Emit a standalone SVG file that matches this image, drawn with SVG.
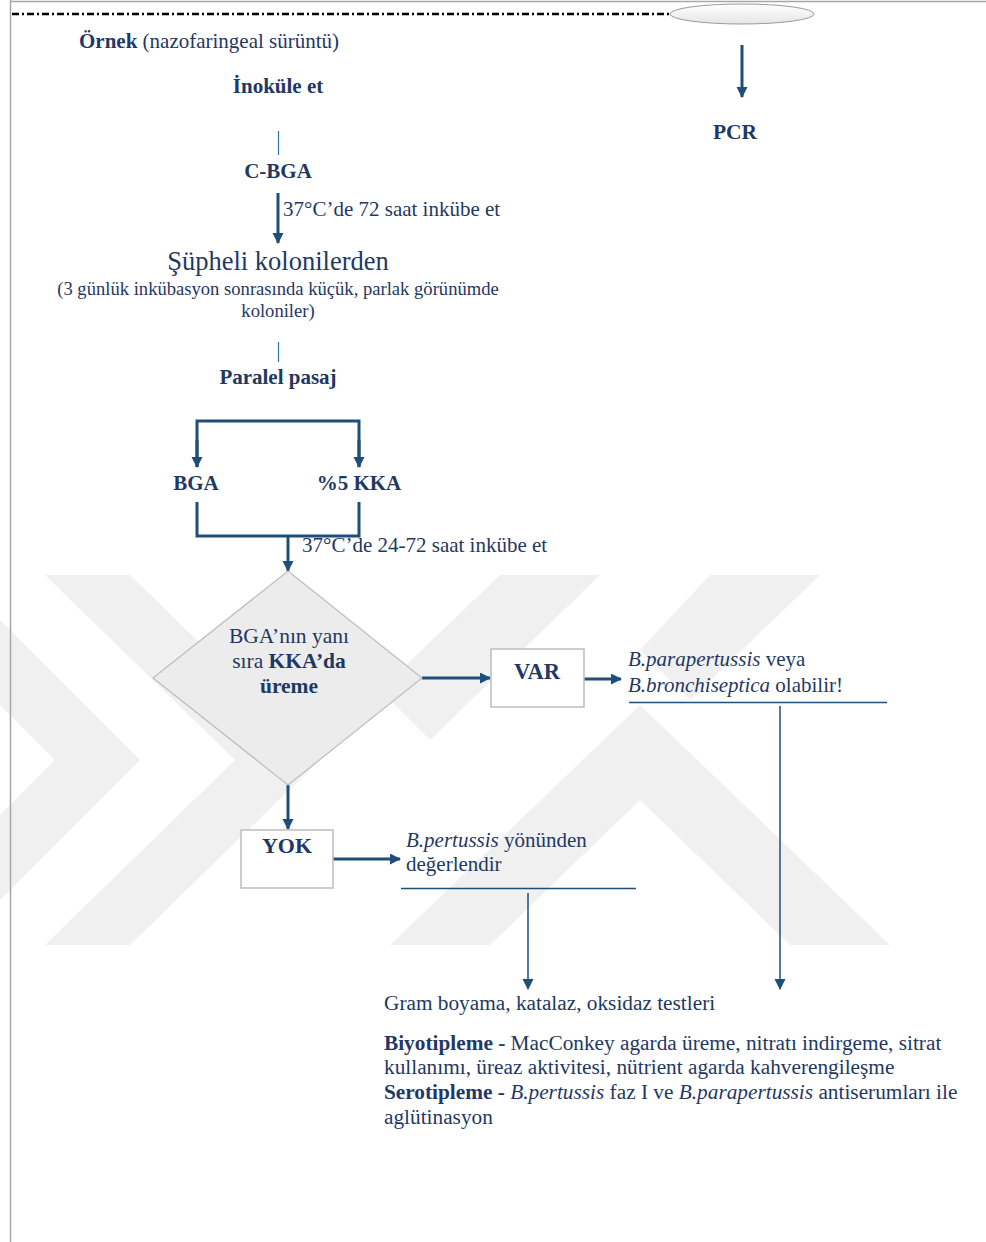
<svg xmlns="http://www.w3.org/2000/svg" width="986" height="1242" viewBox="0 0 986 1242">
<defs>
<style>
.t{font-family:"Liberation Serif","Times New Roman",serif;fill:#1f3864;}
.b{font-weight:bold;}
.i{font-style:italic;}
.c{text-anchor:middle;}
.ln{stroke:#1f4e79;stroke-width:3;fill:none;}
.thin{stroke:#1f4e79;stroke-width:1.5;fill:none;}
.wm{fill:#f0f0f0;}
.box{fill:#ffffff;stroke:#bdbdbd;stroke-width:1.5;}
</style>
<marker id="ah" markerUnits="userSpaceOnUse" markerWidth="12" markerHeight="12" refX="10" refY="5.5" orient="auto">
<path d="M0,0 L11,5.5 L0,11 Z" fill="#1f4e79"/>
</marker>
<linearGradient id="eg" x1="0" y1="0" x2="0" y2="1">
<stop offset="0" stop-color="#ffffff"/>
<stop offset="1" stop-color="#e6e6e6"/>
</linearGradient>
</defs>
<rect width="986" height="1242" fill="#ffffff"/>
<g id="watermark">
<polygon class="wm" points="45,575 130,575 320,760 130,945 45,945 235,760"/>
<polygon class="wm" points="0,620 0,705 55,760 0,815 0,900 140,760"/>
<polygon class="wm" points="640,705 890,945 790,945 640,800 490,945 390,945"/>
<polygon class="wm" points="500,575 600,575 430,740 380,690"/>
<polygon class="wm" points="710,575 820,575 690,700 640,650"/>
</g>
<g id="frame">
<line x1="10" y1="1.5" x2="986" y2="1.5" stroke="#a6a6a6" stroke-width="1.5"/>
<line x1="10.5" y1="0" x2="10.5" y2="1242" stroke="#a6a6a6" stroke-width="1.5"/>
<line x1="12" y1="14" x2="670" y2="14" stroke="#000" stroke-width="2.5" stroke-dasharray="7,3,2,3"/>
<ellipse cx="742" cy="14" rx="72" ry="10" fill="url(#eg)" stroke="#9a9a9a" stroke-width="1"/>
</g>
<g id="connectors">
<line x1="742" y1="45" x2="742" y2="97" class="ln" marker-end="url(#ah)"/>
<line x1="278.5" y1="131" x2="278.5" y2="155" stroke="#2e75b6" stroke-width="1.2"/>
<line x1="278" y1="193" x2="278" y2="243" class="ln" marker-end="url(#ah)"/>
<line x1="278.5" y1="342" x2="278.5" y2="362" stroke="#2e75b6" stroke-width="1.2"/>
<polyline points="197,467 197,421 359,421 359,467" class="ln"/>
<line x1="197" y1="440" x2="197" y2="467" class="ln" marker-end="url(#ah)"/>
<line x1="359" y1="440" x2="359" y2="467" class="ln" marker-end="url(#ah)"/>
<polyline points="197,502 197,536 359,536 359,502" class="ln"/>
<line x1="288" y1="536" x2="288" y2="571" class="ln" marker-end="url(#ah)"/>
<line x1="422" y1="678" x2="490" y2="678" class="ln" marker-end="url(#ah)"/>
<line x1="584" y1="679" x2="621" y2="679" class="ln" marker-end="url(#ah)"/>
<line x1="288" y1="785" x2="288" y2="829" class="ln" marker-end="url(#ah)"/>
<line x1="333" y1="859" x2="400" y2="859" class="ln" marker-end="url(#ah)"/>
<line x1="629" y1="702.5" x2="887" y2="702.5" class="thin"/>
<line x1="780" y1="706" x2="780" y2="989" class="thin" marker-end="url(#ah)"/>
<line x1="401" y1="888.5" x2="636" y2="888.5" class="thin"/>
<line x1="528" y1="893" x2="528" y2="989" class="thin" marker-end="url(#ah)"/>
</g>
<g id="n-ornek"><text class="t" x="79" y="48" font-size="21"><tspan class="b">Örnek</tspan> (nazofaringeal sürüntü)</text></g>
<g id="n-inokule"><text class="t b c" x="278" y="93" font-size="21">İnoküle et</text></g>
<g id="n-cbga"><text class="t b c" x="278" y="178" font-size="21">C-BGA</text></g>
<g id="l-72"><text class="t" x="283" y="216" font-size="21">37°C’de 72 saat inkübe et</text></g>
<g id="n-supheli">
<text class="t c" x="278" y="270" font-size="26.5">Şüpheli kolonilerden</text>
<text class="t c" x="278" y="295" font-size="18.6">(3 günlük inkübasyon sonrasında küçük, parlak görünümde</text>
<text class="t c" x="278" y="317" font-size="18.6">koloniler)</text>
</g>
<g id="n-paralel"><text class="t b c" x="278" y="384" font-size="21">Paralel pasaj</text></g>
<g id="n-bga"><text class="t b c" x="196" y="490" font-size="21">BGA</text></g>
<g id="n-kka"><text class="t b c" x="359" y="490" font-size="21">%5 KKA</text></g>
<g id="l-2472"><text class="t" x="302" y="552" font-size="21">37°C’de 24-72 saat inkübe et</text></g>
<g id="n-diamond">
<polygon points="288,571 422,678 288,785 153,678" fill="#ececec" stroke="#bdbdbd" stroke-width="1.2"/>
<text class="t c" x="289" y="643" font-size="21.5">BGA’nın yanı</text>
<text class="t c" x="289" y="668" font-size="21.5">sıra <tspan class="b">KKA’da</tspan></text>
<text class="t b c" x="289" y="693" font-size="21.5">üreme</text>
</g>
<g id="n-var">
<rect class="box" x="491" y="649" width="93" height="58"/>
<text class="t b c" x="537" y="679" font-size="22.5">VAR</text>
</g>
<g id="n-para">
<text class="t" x="628" y="666" font-size="21"><tspan class="i">B.parapertussis</tspan> veya</text>
<text class="t" x="628" y="692" font-size="21"><tspan class="i">B.bronchiseptica</tspan> olabilir!</text>
</g>
<g id="n-yok">
<rect class="box" x="241" y="830" width="92" height="58"/>
<text class="t b c" x="287" y="853" font-size="22">YOK</text>
</g>
<g id="n-pert">
<text class="t" x="406" y="847" font-size="21"><tspan class="i">B.pertussis</tspan> yönünden</text>
<text class="t" x="406" y="871" font-size="21">değerlendir</text>
</g>
<g id="n-pcr"><text class="t b c" x="735" y="139" font-size="21.5">PCR</text></g>
<g id="n-tests">
<text class="t" x="384" y="1010" font-size="21.3">Gram boyama, katalaz, oksidaz testleri</text>
<text class="t" x="384" y="1050" font-size="21.3"><tspan class="b">Biyotipleme -</tspan> MacConkey agarda üreme, nitratı indirgeme, sitrat</text>
<text class="t" x="384" y="1074" font-size="21.3">kullanımı, üreaz aktivitesi, nütrient agarda kahverengileşme</text>
<text class="t" x="384" y="1099" font-size="21.3"><tspan class="b">Serotipleme -</tspan> <tspan class="i">B.pertussis</tspan> faz I ve <tspan class="i">B.parapertussis</tspan> antiserumları ile</text>
<text class="t" x="384" y="1124" font-size="21.3">aglütinasyon</text>
</g>
</svg>
